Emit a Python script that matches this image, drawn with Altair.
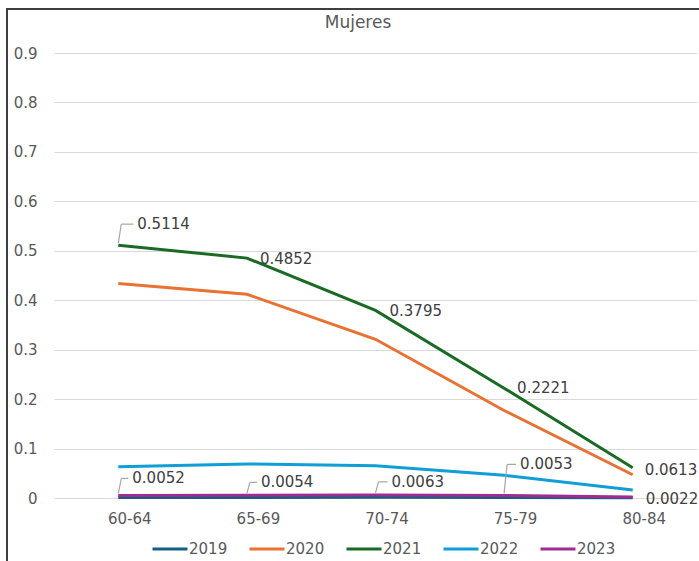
import altair as alt
import pandas as pd

categories = ["60-64", "65-69", "70-74", "75-79", "80-84"]
years = ["2019", "2020", "2021", "2022", "2023"]
v2019 = [0.0010, 0.0012, 0.0015, 0.0012, 0.0005]
v2020 = [0.434, 0.412, 0.321, 0.177, 0.047]
v2021 = [0.5114, 0.4852, 0.3795, 0.2221, 0.0613]
v2022 = [0.063, 0.069, 0.065, 0.046, 0.016]
v2023 = [0.0052, 0.0054, 0.0063, 0.0053, 0.0022]
colors = ["#156082", "#E97132", "#196B24", "#0F9ED5", "#A02B93"]
title_text = "Mujeres"

series = {"2019": v2019, "2020": v2020, "2021": v2021, "2022": v2022, "2023": v2023}
rows = []
for y in years:
    for c, v in zip(categories, series[y]):
        rows.append({"cat": c, "year": y, "value": v})
df = pd.DataFrame(rows)

TXT = "#595959"
FONT = "DejaVu Sans"

W, H = 643, 445

x_enc = alt.X("cat:N", sort=categories, scale=alt.Scale(type="point", padding=0.5),
              axis=alt.Axis(title=None, domain=False, ticks=False, grid=False,
                            labelFontSize=15, labelColor=TXT, labelFont=FONT,
                            labelPadding=13, labelOffset=11, labelAngle=0))
y_enc = alt.Y("value:Q", scale=alt.Scale(domain=[0, 0.9], nice=False, zero=True),
              axis=alt.Axis(title=None, domain=False, ticks=False, grid=True,
                            gridColor="#d9d9d9", gridWidth=1,
                            values=[0, 0.1, 0.2, 0.3, 0.4, 0.5, 0.6, 0.7, 0.8, 0.9],
                            format=".1~f", labelFontSize=15, labelColor=TXT,
                            labelFont=FONT, labelPadding=17))

base = alt.Chart(df)

lines = base.mark_line(strokeWidth=3).encode(
    x=x_enc,
    y=y_enc,
    color=alt.Color("year:N", scale=alt.Scale(domain=years, range=colors),
                    legend=alt.Legend(title=None, orient="none", direction="horizontal",
                                      legendX=97, legendY=477,
                                      symbolType="stroke", symbolSize=1225,
                                      symbolStrokeWidth=3, labelFontSize=15,
                                      labelColor=TXT, labelFont=FONT,
                                      labelOffset=0, columnPadding=15)),
)

frame_df = pd.DataFrame({"k": [0]})

# label style: (year, category, dx, dy, leader)
label_styles = [
    ("2021", "60-64", 19, -21, True),
    ("2021", "65-69", 13, 1, False),
    ("2021", "70-74", 14, 1, False),
    ("2021", "75-79", 13, 0, False),
    ("2021", "80-84", 12, 2, False),
    ("2023", "60-64", 14, -17, True),
    ("2023", "65-69", 14, -13, True),
    ("2023", "70-74", 16, -13, True),
    ("2023", "75-79", 16, -31, True),
    ("2023", "80-84", 13, 2, False),
]

layers = [lines]
for yr, cat, dx, dy, leader in label_styles:
    sel = base.transform_filter(
        (alt.datum.year == yr) & (alt.datum.cat == cat)
    )
    layers.append(
        sel.mark_text(align="left", baseline="middle", dx=dx, dy=dy,
                      fontSize=15, font=FONT, color="#404040").encode(
            x=alt.X("cat:N", sort=categories),
            y="value:Q",
            text=alt.Text("value:Q", format=".4f"),
        )
    )
    if leader:
        layers.append(
            sel.mark_rule(color="#a6a6a6", strokeWidth=1.2,
                          xOffset=0, yOffset=-2, x2Offset=3, y2Offset=dy).encode(
                x=alt.X("cat:N", sort=categories), y="value:Q",
                x2="cat:N", y2="value:Q")
        )
        layers.append(
            sel.mark_rule(color="#a6a6a6", strokeWidth=1.2,
                          xOffset=3, yOffset=dy, x2Offset=dx - 4, y2Offset=dy).encode(
                x=alt.X("cat:N", sort=categories), y="value:Q",
                x2="cat:N", y2="value:Q")
        )

title_mark = alt.Chart(frame_df).mark_text(
    fontSize=17, font=FONT, color=TXT, align="center", baseline="middle").encode(
    x=alt.value(304), y=alt.value(-30), text=alt.value(title_text))
left_border = alt.Chart(frame_df).mark_rule(color="#3f3f3f", strokeWidth=2).encode(
    x=alt.value(-47), y=alt.value(-45), y2=alt.value(510))
top_border = alt.Chart(frame_df).mark_rule(color="#3f3f3f", strokeWidth=2).encode(
    x=alt.value(-48), x2=alt.value(650), y=alt.value(-44))
layers += [title_mark, left_border, top_border]

chart = alt.layer(*layers).properties(
    width=W, height=H,
    autosize=alt.AutoSizeParams(type="none"),
    padding={"left": 54, "top": 53, "right": 2, "bottom": 63},
).configure(background="white").configure_view(
    strokeWidth=0, stroke="transparent"
).configure_axisX(grid=False, domain=False, ticks=False
).configure_axisY(domain=False, ticks=False)

chart.save("out.html", embed_options={"renderer": "svg", "actions": False})
